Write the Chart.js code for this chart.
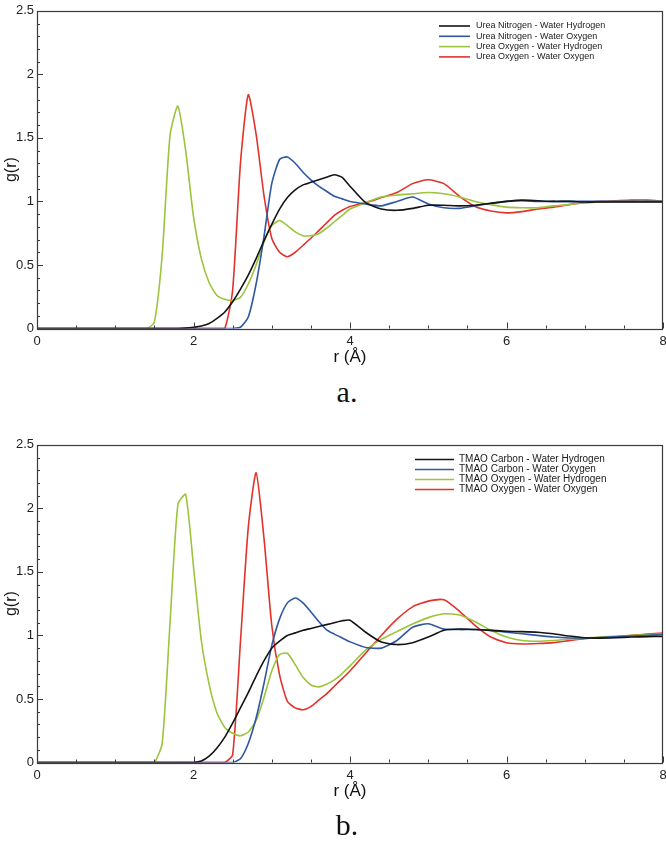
<!DOCTYPE html>
<html>
<head>
<meta charset="utf-8">
<script src="https://cdn.jsdelivr.net/npm/chart.js@4.4.1/dist/chart.umd.min.js"></script>
<style>
  body { margin: 0; background: #fff; width: 666px; height: 847px; position: relative; overflow: hidden; }
  canvas { position: absolute; left: 0; }
  .tag { position: absolute; left: 317px; width: 60px; text-align: center; font: 30px "Liberation Serif", serif; line-height: 30px; color: #111; }
</style>
</head>
<body>
<canvas id="chartA" width="666" height="375" style="top:0"></canvas>
<div class="tag" style="top:377px">a.</div>
<canvas id="chartB" width="666" height="375" style="top:434px"></canvas>
<div class="tag" style="top:810px">b.</div>
<script>
// r grid (Å) shared by all curves
const rValues = [0, 1.4, 1.5, 1.6, 1.7, 1.8, 1.9,
  2.0, 2.1, 2.2, 2.3, 2.4, 2.5, 2.6, 2.7, 2.8, 2.9,
  3.0, 3.1, 3.2, 3.3, 3.4, 3.5, 3.6, 3.7, 3.8, 3.9,
  4.0,
  4.2, 4.4, 4.6, 4.8, 5.0, 5.2, 5.4, 5.6, 5.8, 6.0,
  6.2, 6.4, 6.6, 6.8, 7.0, 7.2, 7.4, 7.6, 7.8, 8.0];

// a. urea
const ureaNH = [0, 0, 0, 0, 0, 0, 0.003,
  0.01, 0.02, 0.04, 0.08, 0.13, 0.21, 0.31, 0.42, 0.55, 0.69,
  0.82, 0.94, 1.03, 1.09, 1.13, 1.15, 1.17, 1.19, 1.21, 1.19,
  1.12,
  0.99, 0.94, 0.93, 0.945, 0.97, 0.97, 0.965, 0.97, 0.985, 1.0,
  1.01, 1.005, 1.0, 1.0, 0.995, 0.995, 0.995, 0.995, 0.995, 0.995];
const ureaNO = [0, 0, 0, 0, 0, 0, 0,
  0, 0, 0, 0, 0, 0, 0.01, 0.09, 0.35, 0.72,
  1.14, 1.33, 1.35, 1.30, 1.23, 1.17, 1.12, 1.08, 1.04, 1.02,
  1.0,
  0.98, 0.965, 1.0, 1.035, 0.98, 0.95, 0.945, 0.965, 0.985, 1.0,
  1.005, 1.0, 1.0, 1.0, 1.0, 1.0, 1.0, 1.0, 1.0, 1.0];
const ureaOH = [0, 0, 0.05, 0.58, 1.52, 1.75, 1.40,
  0.88, 0.55, 0.36, 0.26, 0.23, 0.22, 0.245, 0.35, 0.50, 0.68,
  0.81, 0.85, 0.81, 0.76, 0.73, 0.73, 0.745, 0.79, 0.84, 0.89,
  0.94,
  0.99, 1.035, 1.05, 1.06, 1.07, 1.06, 1.035, 1.0, 0.975, 0.955,
  0.95, 0.95, 0.965, 0.975, 0.99, 0.995, 1.0, 1.0, 1.0, 1.0];
const ureaOO = [0, 0, 0, 0, 0, 0, 0,
  0, 0, 0, 0, 0, 0.30, 1.30, 1.84, 1.53, 1.05,
  0.71, 0.60, 0.565, 0.60, 0.655, 0.71, 0.77, 0.83, 0.89, 0.93,
  0.96,
  0.99, 1.03, 1.07, 1.14, 1.17, 1.14, 1.04, 0.96, 0.925, 0.91,
  0.92, 0.94, 0.955, 0.975, 0.99, 1.0, 1.005, 1.01, 1.01, 1.0];

// b. TMAO
const tmaoCH = [0, 0, 0, 0, 0, 0, 0,
  0, 0.012, 0.05, 0.115, 0.20, 0.31, 0.43, 0.55, 0.68, 0.80,
  0.90, 0.955, 1.0, 1.02, 1.04, 1.055, 1.07, 1.085, 1.10, 1.115,
  1.12,
  1.025, 0.948, 0.928, 0.943, 0.987, 1.04, 1.05, 1.046, 1.04, 1.033,
  1.03, 1.025, 1.013, 0.995, 0.982, 0.979, 0.982, 0.987, 0.99, 0.992];
const tmaoCO = [0, 0, 0, 0, 0, 0, 0,
  0, 0, 0, 0, 0, 0, 0.03, 0.15, 0.35, 0.62,
  0.92, 1.13, 1.256, 1.295, 1.256, 1.185, 1.11, 1.044, 1.01, 0.98,
  0.95,
  0.905, 0.90, 0.96, 1.064, 1.092, 1.05, 1.046, 1.046, 1.04, 1.025,
  1.013, 1.0, 0.987, 0.98, 0.98, 0.984, 0.99, 0.995, 1.0, 1.005];
const tmaoOH = [0, 0, 0, 0.15, 1.1, 2.03, 2.11,
  1.54, 0.96, 0.615, 0.39, 0.275, 0.23, 0.21, 0.24, 0.33, 0.51,
  0.72, 0.85, 0.86, 0.77, 0.67, 0.61, 0.595, 0.615, 0.65, 0.70,
  0.76,
  0.884, 0.969, 1.03, 1.09, 1.14, 1.17, 1.16, 1.107, 1.04, 0.987,
  0.96, 0.954, 0.96, 0.97, 0.98, 0.987, 0.995, 1.0, 1.007, 1.01];
const tmaoOO = [0, 0, 0, 0, 0, 0, 0,
  0, 0, 0, 0, 0, 0.06, 0.95, 1.85, 2.28, 1.77,
  1.08, 0.69, 0.48, 0.43, 0.415, 0.44, 0.49, 0.54, 0.60, 0.66,
  0.72,
  0.86, 1.0, 1.128, 1.225, 1.27, 1.28, 1.19, 1.077, 0.987, 0.943,
  0.933, 0.936, 0.943, 0.959, 0.974, 0.984, 0.99, 1.0, 1.01, 1.018];

const ureaLabels = ['Urea Nitrogen - Water Hydrogen', 'Urea Nitrogen - Water Oxygen',
  'Urea Oxygen - Water Hydrogen', 'Urea Oxygen - Water Oxygen'];
const tmaoLabels = ['TMAO Carbon - Water Hydrogen', 'TMAO Carbon - Water Oxygen',
  'TMAO Oxygen - Water Hydrogen', 'TMAO Oxygen - Water Oxygen'];
const xTicks = [0, 2, 4, 6, 8];
const yTicks = [0, 0.5, 1, 1.5, 2, 2.5];

const colors = ['#141414', '#2f57a3', '#9cc43c', '#e2322a'];

// plot frame and inward tick marks
const frameTicks = {
  id: 'frameTicks',
  afterDraw(chart) {
    const ctx = chart.ctx;
    const a = chart.chartArea;
    const xs = chart.scales.x, ys = chart.scales.y;
    ctx.save();
    ctx.strokeStyle = '#3a3a3a';
    ctx.lineWidth = 1;
    ctx.beginPath();
    for (let i = 0; i <= 16; i++) {
      const px = Math.round(xs.getPixelForValue(i * 0.5)) + 0.5;
      const len = i % 4 === 0 ? 6 : 3;
      ctx.moveTo(px, a.bottom);
      ctx.lineTo(px, a.bottom - len);
    }
    for (let i = 0; i <= 25; i++) {
      const py = Math.round(ys.getPixelForValue(i / 10)) + 0.5;
      const len = i % 5 === 0 ? 6 : 3;
      ctx.moveTo(a.left, py);
      ctx.lineTo(a.left + len, py);
    }
    ctx.stroke();
    ctx.lineWidth = 1.2;
    ctx.strokeRect(Math.round(a.left) + 0.5, Math.round(a.top) + 0.5,
      Math.round(a.right - a.left) - 1, Math.round(a.bottom - a.top));
    ctx.restore();
  }
};

// legend drawn inside the plot, top right
const insideLegend = {
  id: 'insideLegend',
  afterDatasetsDraw(chart, args, opts) {
    const ctx = chart.ctx;
    ctx.save();
    ctx.font = opts.size + 'px "Liberation Sans", Arial, sans-serif';
    ctx.textBaseline = 'middle';
    chart.data.datasets.forEach((ds, i) => {
      const y = opts.y0 + i * opts.dy;
      ctx.strokeStyle = ds.borderColor;
      ctx.lineWidth = 1.6;
      ctx.beginPath();
      ctx.moveTo(opts.x1, y);
      ctx.lineTo(opts.x2, y);
      ctx.stroke();
      ctx.fillStyle = '#1a1a1a';
      ctx.fillText(ds.label, opts.tx, y);
    });
    ctx.restore();
  }
};

function makeChart(id, labels, series, legend) {
  const datasets = series.map((vals, i) => ({
    label: labels[i],
    data: rValues.map((r, k) => ({ x: r, y: vals[k] })),
    borderColor: colors[i],
    borderWidth: 1.6,
    pointRadius: 0,
    tension: 0.2,
    fill: false
  }));
  return new Chart(document.getElementById(id), {
    type: 'line',
    data: { datasets: datasets },
    plugins: [frameTicks, insideLegend],
    options: {
      responsive: false,
      animation: false,
      devicePixelRatio: 1,
      layout: { padding: { top: 5, right: 3, left: 0, bottom: 0 } },
      plugins: {
        legend: { display: false },
        tooltip: { enabled: false },
        insideLegend: legend
      },
      scales: {
        x: {
          type: 'linear',
          min: 0, max: 8,
          afterBuildTicks: s => { s.ticks = xTicks.map(v => ({ value: v })); },
          afterFit: s => { s.height = 46.5; s.paddingLeft = 0; s.paddingRight = 0; },
          grid: { display: false, drawTicks: false },
          border: { display: false },
          ticks: { color: '#222', font: { size: 13, family: '"Liberation Sans", Arial' }, padding: 5, maxRotation: 0 },
          title: { display: true, text: 'r (Å)', color: '#111',
            font: { size: 17, family: '"Liberation Sans", Arial' }, padding: { top: 0, bottom: 7 } }
        },
        y: {
          min: 0, max: 2.5,
          afterBuildTicks: s => { s.ticks = yTicks.map(v => ({ value: v })); },
          afterFit: s => { s.width = 37; },
          grid: { display: false, drawTicks: false },
          border: { display: false },
          ticks: { color: '#222', font: { size: 13, family: '"Liberation Sans", Arial' }, padding: 3,
            callback: v => String(v) },
          title: { display: true, text: 'g(r)', color: '#111',
            font: { size: 16, family: '"Liberation Sans", Arial' }, padding: { top: 2, bottom: 0 } }
        }
      }
    }
  });
}

makeChart('chartA', ureaLabels, [ureaNH, ureaNO, ureaOH, ureaOO],
  { x1: 439, x2: 470, tx: 476, y0: 26, dy: 10.3, size: 9 });
makeChart('chartB', tmaoLabels, [tmaoCH, tmaoCO, tmaoOH, tmaoOO],
  { x1: 415, x2: 454, tx: 459, y0: 25.5, dy: 10, size: 10 });
</script>
</body>
</html>
